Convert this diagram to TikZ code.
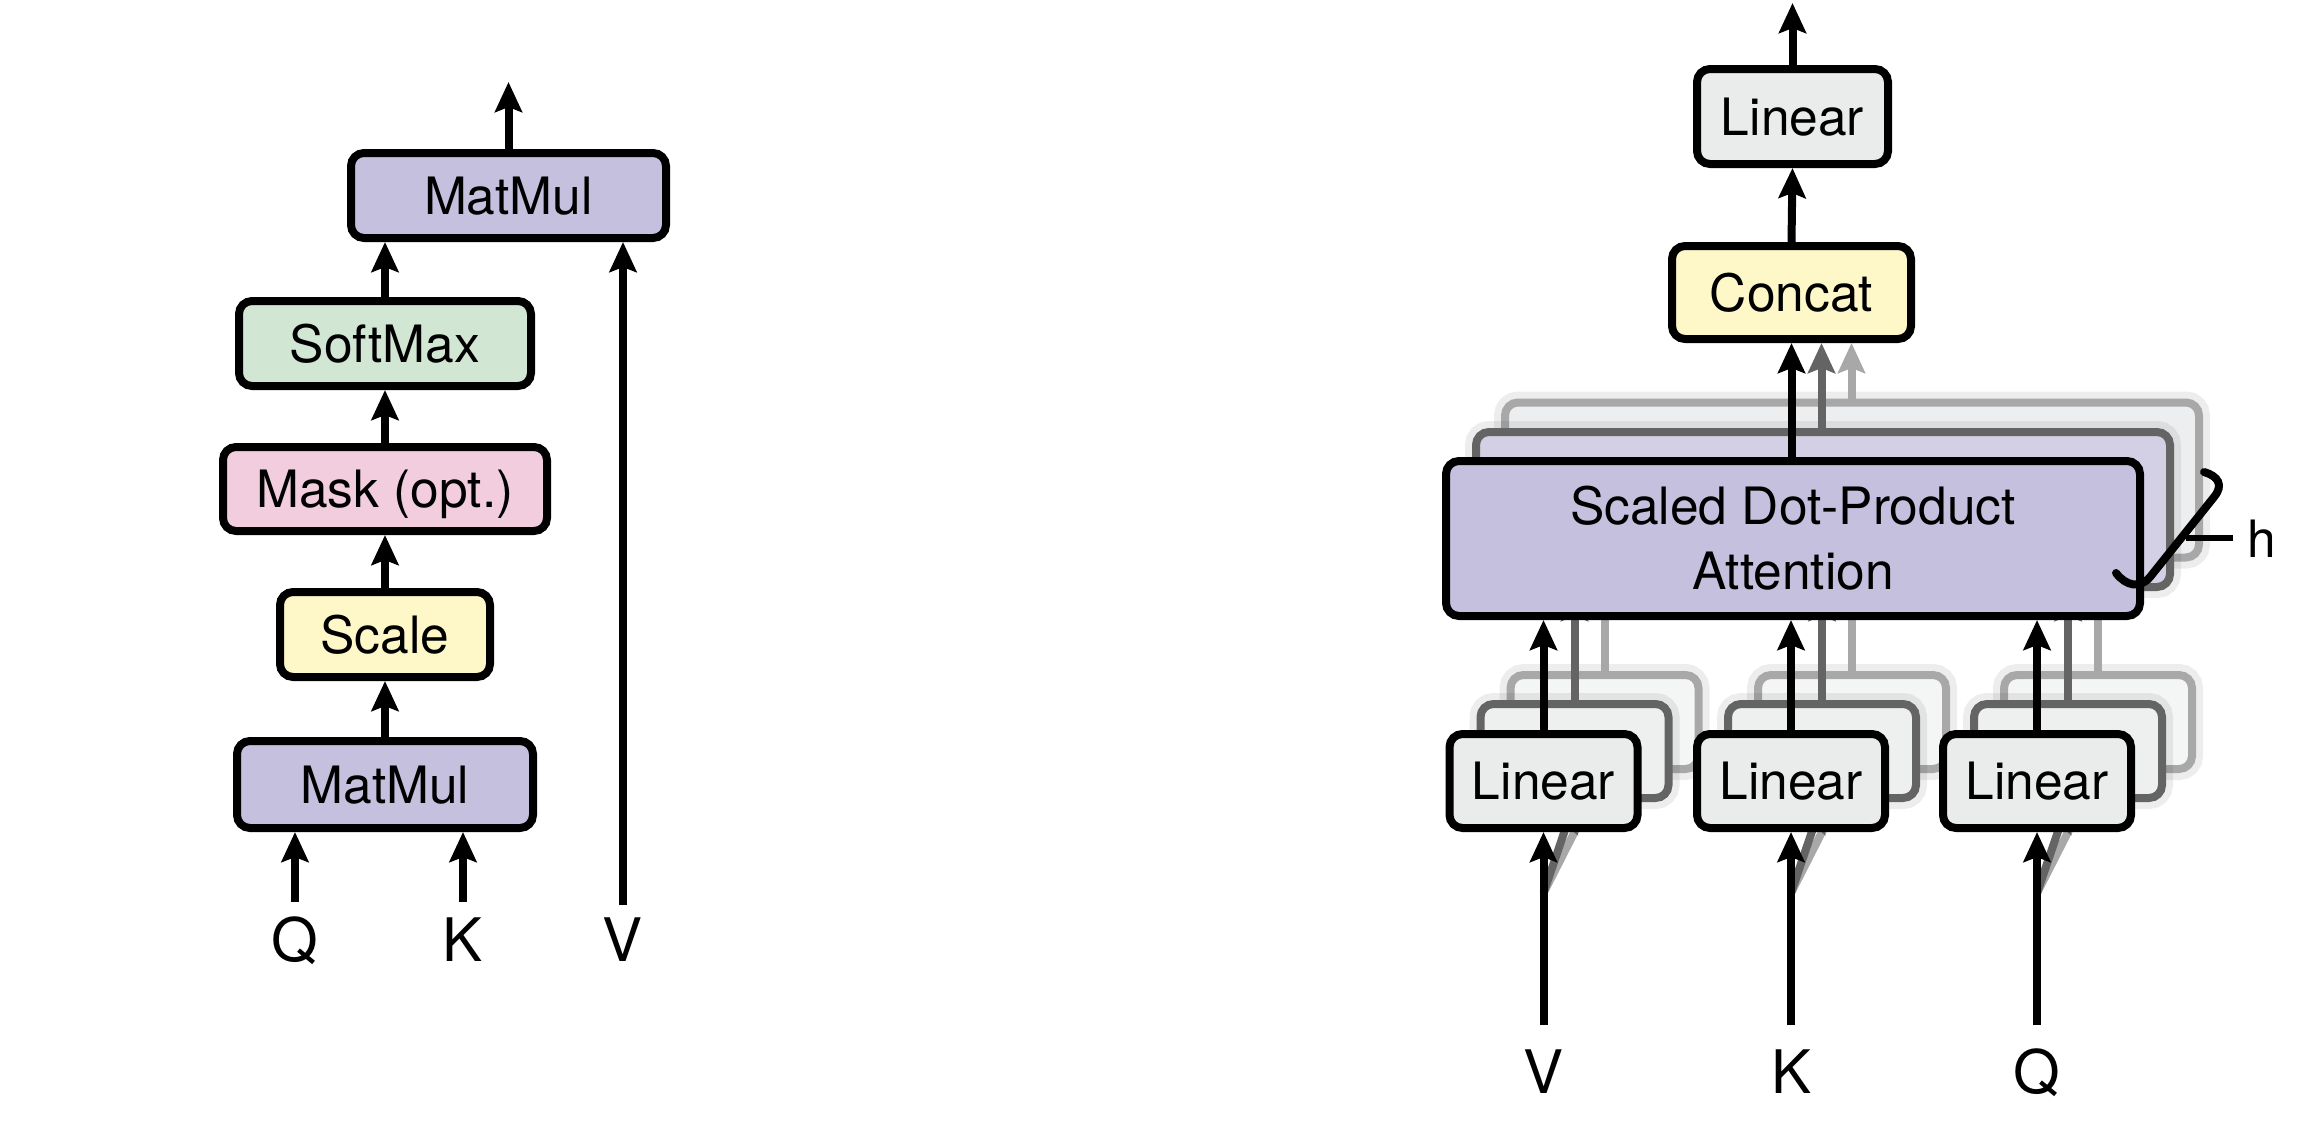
\documentclass[tikz,border=0pt]{standalone}
\usepackage{fontspec}
\setmainfont{TeX Gyre Heros}
\usetikzlibrary{arrows.meta,calc}
\definecolor{purp}{RGB}{196,192,222}
\definecolor{purpB}{RGB}{211,208,230}
\definecolor{purpC}{RGB}{237,238,240}
\definecolor{softg}{RGB}{210,230,212}
\definecolor{maskp}{RGB}{242,205,222}
\definecolor{yell}{RGB}{254,248,201}
\definecolor{lgray}{RGB}{233,236,235}
\definecolor{lgrayB}{RGB}{238,240,240}
\definecolor{lgrayC}{RGB}{244,245,245}
\definecolor{edgeB}{RGB}{100,100,100}
\definecolor{edgeC}{RGB}{168,168,168}
\begin{document}
\begin{tikzpicture}[x=1pt,y=-1pt,
 bx/.style={draw=black,line width=8pt,rounded corners=13pt,inner sep=0pt,font=\fontsize{51.5}{65}\selectfont},
 one/.style={text height=37pt,text depth=0pt},
 arr/.style={line width=8pt,-{Stealth[length=30pt,width=27pt,inset=5pt]}},
 lbl/.style={inner sep=0pt,font=\fontsize{60}{70}\selectfont,text height=43pt,text depth=0pt},
 glow/.style={preaction={draw=black,draw opacity=0.07,line width=22pt}},
 layB/.style={bx,draw=edgeB,glow},
 layC/.style={bx,draw=edgeC,glow},
 garrB/.style={arr,draw=edgeB},
 garrC/.style={arr,draw=edgeC},
 linbox/.style={minimum width=188pt,minimum height=94pt},
 sdbox/.style={minimum width=694pt,minimum height=155pt}]
\useasboundingbox (0,0) rectangle (2302,1133);

% ---------------- left: scaled dot-product attention
\node[bx,one,fill=purp,minimum width=315pt,minimum height=85pt] (mmt) at (508.5,195.5) {MatMul};
\node[bx,one,fill=softg,minimum width=292pt,minimum height=85pt] (sm) at (385,343.5) {SoftMax};
\node[bx,one,fill=maskp,minimum width=324pt,minimum height=84pt] (mask) at (385,489) {Mask (opt.)};
\node[bx,one,fill=yell,minimum width=210pt,minimum height=85pt] (scale) at (385,634.5) {Scale};
\node[bx,one,fill=purp,minimum width=296pt,minimum height=87pt] (mmb) at (385,784.5) {MatMul};
\coordinate (lout) at (508.5,82);
\draw[arr] (mmt.north) -- (lout);
\draw[arr] (sm.north) -- (sm.north |- mmt.south);
\draw[arr] (mask.north) -- (sm.south);
\draw[arr] (scale.north) -- (mask.south);
\draw[arr] (mmb.north) -- (scale.south);
\coordinate (qa) at (295,902);
\coordinate (ka) at (463,902);
\coordinate (va) at (623,905);
\draw[arr] (qa) -- (qa |- mmb.south);
\draw[arr] (ka) -- (ka |- mmb.south);
\draw[arr] (va) -- (va |- mmt.south);
\node[lbl] (ql) at (295,940) {Q};
\node[lbl] (kl) at (463,940) {K};
\node[lbl] (vl) at (623,940) {V};

% ---------------- right: multi-head attention
\node[bx,one,fill=lgray,minimum width=191pt,minimum height=95pt] (lt) at (1792.5,116.5) {Linear};
\node[bx,one,fill=yell,minimum width=239pt,minimum height=93pt] (cc) at (1791.5,292.5) {Concat};
\coordinate (rout) at (1792.5,3);
\draw[arr] (lt.north) -- (rout);
\draw[arr] (cc.north) -- (lt.south);
\coordinate (cB) at ($(cc.south)+(30,0)$);
\coordinate (cC) at ($(cc.south)+(60,0)$);

\coordinate (s1) at (1543.5,893);
\coordinate (s2) at (1791,893);
\coordinate (s3) at (2037,893);

% layer C (back)
\node[layC,sdbox,fill=purpC] (sdC) at (1852,480) {};
\node[layC,linbox,fill=lgrayC] (lC1) at (1604.5,722) {};
\node[layC,linbox,fill=lgrayC] (lC2) at (1852,722) {};
\node[layC,linbox,fill=lgrayC] (lC3) at (2098,722) {};
\draw[garrC] (sdC.north -| cC) -- (cC);
\draw[garrC] (lC1.north) -- (lC1.north |- sdC.south);
\draw[garrC] (lC2.north) -- (lC2.north |- sdC.south);
\draw[garrC] (lC3.north) -- (lC3.north |- sdC.south);
\draw[garrC] (s1) -- (lC1.south);
\draw[garrC] (s2) -- (lC2.south);
\draw[garrC] (s3) -- (lC3.south);

% layer B (middle)
\node[layB,sdbox,fill=purpB] (sdB) at (1823,509.5) {};
\node[layB,linbox,fill=lgrayB] (lB1) at (1574.5,751) {};
\node[layB,linbox,fill=lgrayB] (lB2) at (1822,751) {};
\node[layB,linbox,fill=lgrayB] (lB3) at (2068,751) {};
\draw[garrB] (sdB.north -| cB) -- (cB);
\draw[garrB] (lB1.north) -- (lB1.north |- sdB.south);
\draw[garrB] (lB2.north) -- (lB2.north |- sdB.south);
\draw[garrB] (lB3.north) -- (lB3.north |- sdB.south);
\draw[garrB] (s1) -- (lB1.south);
\draw[garrB] (s2) -- (lB2.south);
\draw[garrB] (s3) -- (lB3.south);

% main layer
\node[bx,sdbox,fill=purp,align=center] (sd) at (1793,538.5) {Scaled Dot-Product\\Attention};
\node[bx,one,linbox,fill=lgray] (l1) at (1543.5,781) {Linear};
\node[bx,one,linbox,fill=lgray] (l2) at (1791,781) {Linear};
\node[bx,one,linbox,fill=lgray] (l3) at (2037,781) {Linear};
\draw[arr] (sd.north -| cc.south) -- (cc.south);
\draw[arr] (l1.north) -- (l1.north |- sd.south);
\draw[arr] (l2.north) -- (l2.north |- sd.south);
\draw[arr] (l3.north) -- (l3.north |- sd.south);
\coordinate (vin) at (1543.5,1025);
\coordinate (kin) at (1791,1025);
\coordinate (qin) at (2037,1025);
\draw[arr] (vin) -- (l1.south);
\draw[arr] (kin) -- (l2.south);
\draw[arr] (qin) -- (l3.south);
\node[lbl] (vr) at (1543.5,1072) {V};
\node[lbl] (kr) at (1791,1072) {K};
\node[lbl] (qr) at (2037,1072) {Q};

% h brace
\draw[line width=8pt,line cap=round] (2204,472) .. controls (2218,476) and (2224,485) .. (2214,497) -- (2150,577) .. controls (2140,589) and (2126,586) .. (2116,573);
\coordinate (hta) at (2186,538);
\coordinate (htb) at (2233,538);
\draw[line width=6pt] (hta) -- (htb);
\node[inner sep=0pt,font=\fontsize{51.5}{60}\selectfont,text height=37pt,text depth=0pt] (hl) at (2262,539) {h};
\end{tikzpicture}
\end{document}
